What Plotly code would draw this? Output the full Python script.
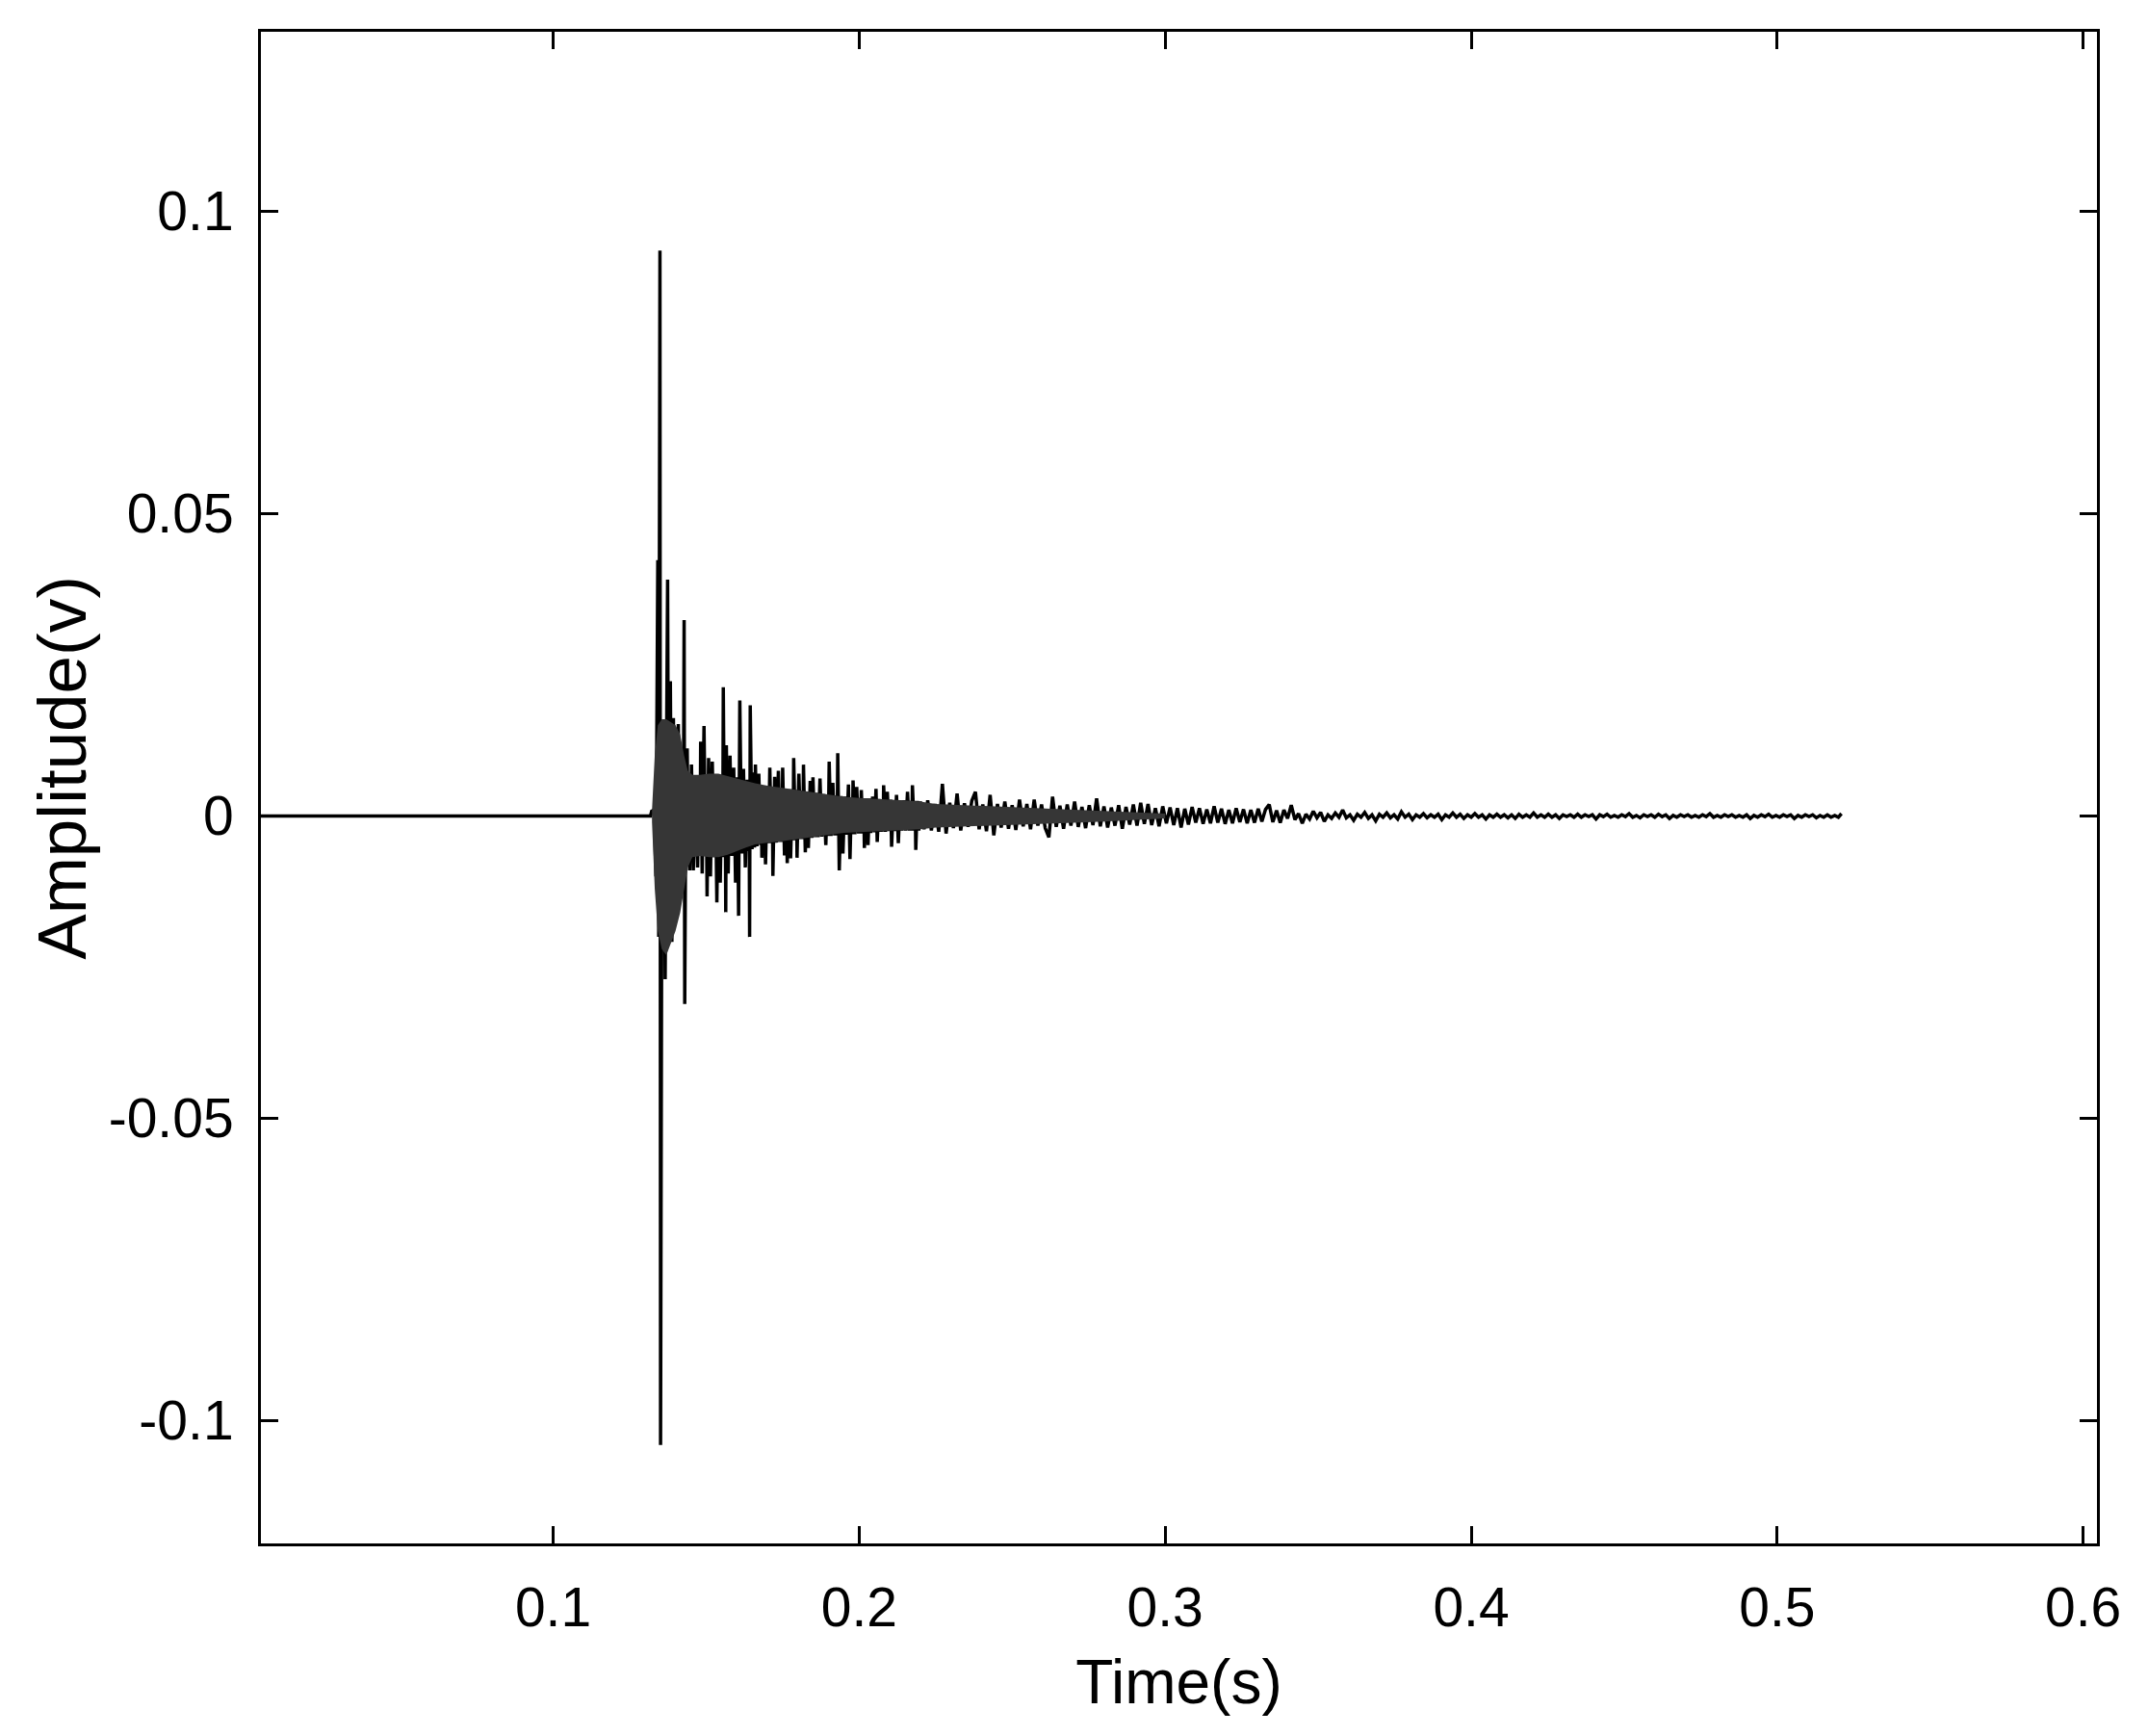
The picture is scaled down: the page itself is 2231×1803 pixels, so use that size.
import plotly.graph_objects as go

# ---------------- data ----------------
# quiet lead-in before the impact
lead_t = [0.0045, 0.1318]
lead_v = [0.0, 0.0]

# burst: individual peaks (s, V)
burst_t = [0.1322, 0.1330, 0.1336, 0.1342, 0.1345, 0.1349, 0.1351, 0.1356, 0.1361, 0.1363,
           0.1366, 0.1370, 0.1374, 0.1378, 0.1383, 0.1388, 0.1393, 0.1398, 0.1403, 0.1406,
           0.1409, 0.1414, 0.1420, 0.1425, 0.1428, 0.1430, 0.1434, 0.1436, 0.1438, 0.1442,
           0.1444, 0.1446, 0.1452, 0.1458, 0.1466, 0.1472, 0.1477, 0.1480, 0.1482, 0.1487,
           0.1493, 0.1498, 0.1500, 0.1503, 0.1508, 0.1514, 0.1520, 0.1526, 0.1530, 0.1535,
           0.1540, 0.1546, 0.1552, 0.1554, 0.1556, 0.1560, 0.1562, 0.1564, 0.1566, 0.1572,
           0.1578, 0.1584, 0.1590, 0.1596, 0.1602, 0.1606, 0.1610, 0.1616, 0.1622, 0.1628,
           0.1634, 0.1638, 0.1640, 0.1642, 0.1644, 0.1650, 0.1656, 0.1658, 0.1661, 0.1666,
           0.1672, 0.1678, 0.1680, 0.1682, 0.1688, 0.1694, 0.1700, 0.1704, 0.1708, 0.1713,
           0.1716, 0.1718, 0.1724, 0.1730, 0.1736, 0.1742, 0.1746, 0.1748, 0.1750, 0.1756,
           0.1760, 0.1765, 0.1770, 0.1776, 0.1782, 0.1784, 0.1786, 0.1792, 0.1795, 0.1797,
           0.1803, 0.1809, 0.1814, 0.1816, 0.1818, 0.1824, 0.1830, 0.1834, 0.1840, 0.1845,
           0.1849, 0.1855, 0.1860, 0.1866, 0.1872, 0.1878, 0.1884, 0.1891, 0.1896, 0.1899,
           0.1902, 0.1908, 0.1914, 0.1920, 0.1926, 0.1928, 0.1930, 0.1935, 0.1941, 0.1947,
           0.1953, 0.1959, 0.1965, 0.1970, 0.1975, 0.1978, 0.1980, 0.1986, 0.1992, 0.1998,
           0.2002, 0.2004, 0.2007, 0.2012, 0.2015, 0.2017, 0.2023, 0.2029, 0.2034, 0.2038,
           0.2044, 0.2050, 0.2055, 0.2059, 0.2065, 0.2071, 0.2076, 0.2078, 0.2080, 0.2086,
           0.2092, 0.2098, 0.2103, 0.2106, 0.2112, 0.2117, 0.2122, 0.2128, 0.2134, 0.2140,
           0.2146, 0.2152, 0.2158, 0.2164, 0.2170, 0.2172, 0.2174, 0.2180, 0.2183, 0.2185,
           0.2190, 0.2195]
burst_v = [0.0008, 0.0010, -0.0100, 0.0423, -0.0200, 0.0935, -0.1040, 0.0150, -0.0220, 0.0120,
           -0.0270, 0.0140, 0.0391, -0.0200, 0.0223, -0.0208, 0.0162, -0.0160, 0.0120, -0.0130,
           0.0152, -0.0120, 0.0110, -0.0100, 0.0324, -0.0311, 0.0090, -0.0070, 0.0112, -0.0070,
           0.0060, -0.0090, 0.0085, -0.0090, 0.0066, -0.0085, 0.0060, -0.0060, 0.0123, -0.0095,
           0.0149, -0.0066, 0.0060, -0.0133, 0.0096, -0.0100, 0.0090, -0.0068, 0.0068, -0.0143,
           0.0068, -0.0110, 0.0068, -0.0068, 0.0213, -0.0068, 0.0068, -0.0159, 0.0117, -0.0095,
           0.0100, -0.0066, 0.0080, -0.0110, 0.0064, -0.0165, 0.0191, -0.0062, 0.0078, -0.0085,
           0.0060, -0.0058, 0.0058, -0.0200, 0.0183, -0.0055, 0.0072, -0.0052, 0.0085, -0.0050,
           0.0070, -0.0048, 0.0050, -0.0069, 0.0050, -0.0080, 0.0050, -0.0045, 0.0080, -0.0045,
           0.0048, -0.0099, 0.0065, -0.0044, 0.0075, -0.0043, 0.0046, -0.0043, 0.0080, -0.0065,
           0.0045, -0.0078, 0.0044, -0.0070, 0.0044, -0.0040, 0.0096, -0.0040, 0.0043, -0.0069,
           0.0070, -0.0038, 0.0042, -0.0038, 0.0085, -0.0060, 0.0040, -0.0053, 0.0058, -0.0036,
           0.0064, -0.0035, 0.0038, -0.0035, 0.0062, -0.0034, 0.0036, -0.0048, 0.0035, -0.0033,
           0.0090, -0.0033, 0.0055, -0.0032, 0.0034, -0.0032, 0.0104, -0.0090, 0.0033, -0.0062,
           0.0032, -0.0031, 0.0052, -0.0071, 0.0031, -0.0030, 0.0059, -0.0030, 0.0048, -0.0029,
           0.0030, -0.0029, 0.0043, -0.0029, 0.0029, -0.0053, 0.0029, -0.0048, 0.0029, -0.0028,
           0.0032, -0.0027, 0.0045, -0.0043, 0.0028, -0.0026, 0.0027, -0.0026, 0.0051, -0.0026,
           0.0040, -0.0025, 0.0027, -0.0051, 0.0026, -0.0025, 0.0035, -0.0045, 0.0026, -0.0024,
           0.0026, -0.0024, 0.0040, -0.0024, 0.0025, -0.0024, 0.0051, -0.0024, 0.0025, -0.0056,
           0.0025, -0.0024]

# decaying tail, sampled every TAIL_DT seconds from TAIL_T0
TAIL_T0 = 0.2200
TAIL_DT = 0.0012
tail_v = [0.0024, -0.0022, 0.0026, -0.0024, 0.0020, -0.0026, 0.0053, -0.0029, 0.0022, -0.0020,
          0.0037, -0.0024, 0.0021, -0.0018, 0.0025, 0.0040, -0.0022, 0.0019, -0.0025, 0.0035,
          -0.0032, 0.0020, -0.0019, 0.0024, -0.0021, 0.0018, -0.0023, 0.0027, -0.0017, 0.0020,
          -0.0022, 0.0027, -0.0016, 0.0019, -0.0020, -0.0035, 0.0032, -0.0018, 0.0017, -0.0021,
          0.0019, -0.0016, 0.0024, -0.0018, 0.0015, -0.0020, 0.0018, -0.0015, 0.0029, -0.0017,
          0.0016, -0.0019, 0.0014, -0.0016, 0.0018, -0.0021, 0.0015, -0.0014, 0.0019, -0.0016,
          0.0022, -0.0013, 0.0020, -0.0015, 0.0013, -0.0017, 0.0016, -0.0012, 0.0014, -0.0015,
          0.0013, -0.0019, 0.0012, -0.0014, 0.0015, -0.0011, 0.0013, -0.0013, 0.0011, -0.0012,
          0.0016, -0.0011, 0.0012, -0.0013, 0.0010, -0.0012, 0.0013, -0.0010, 0.0011, -0.0012,
          0.0010, -0.0011, 0.0012, -0.0009, 0.0011, 0.0019, -0.0010, 0.0009, -0.0011, 0.0010,
          -0.0004, 0.0018, -0.0006, 0.0004, -0.0012, 0.0003, -0.0005, 0.0008, -0.0003, 0.0006,
          -0.0009, 0.0002, -0.0004, 0.0005, -0.0002, 0.0010, -0.0003, 0.0002, -0.0007, 0.0003,
          -0.0002, 0.0006, -0.0004, 0.0002, -0.0008, 0.0003, -0.0002, 0.0005, -0.0003, 0.0002,
          -0.0005, 0.0007, -0.0002, 0.0003, -0.0006, 0.0002, -0.0002, 0.0004, -0.0003, 0.0002,
          -0.0002, 0.0003, -0.0006, 0.0002, -0.0002, 0.0005, -0.0002, 0.0003, -0.0004, 0.0002,
          -0.0002, 0.0004, -0.0002, 0.0002, -0.0005, 0.0002, -0.0002, 0.0003, -0.0002, 0.0002,
          -0.0003, 0.0002, -0.0004, 0.0003, -0.0002, 0.0002, -0.0002, 0.0005, -0.0002, 0.0002,
          -0.0002, 0.0003, -0.0002, 0.0002, -0.0004, 0.0002, -0.0001, 0.0002, -0.0002, 0.0003,
          -0.0002, 0.0002, -0.0001, 0.0002, -0.0005, 0.0002, -0.0001, 0.0003, -0.0002, 0.0001,
          -0.0002, 0.0002, -0.0001, 0.0004, -0.0002, 0.0001, -0.0003, 0.0002, -0.0001, 0.0002,
          -0.0002, 0.0003, -0.0001, 0.0002, -0.0004, 0.0001, -0.0002, 0.0002, -0.0001, 0.0002,
          -0.0002, 0.0001, -0.0002, 0.0002, -0.0001, 0.0004, -0.0002, 0.0001, -0.0002, 0.0002,
          -0.0001, 0.0002, -0.0002, 0.0001, -0.0002, 0.0002, -0.0004, 0.0001, -0.0002, 0.0002,
          -0.0001, 0.0003, -0.0002, 0.0001, -0.0002, 0.0002, -0.0001, 0.0002, -0.0004, 0.0001,
          -0.0002, 0.0002, -0.0001, 0.0002, -0.0003, 0.0001, -0.0002, 0.0002, -0.0002, 0.0001,
          -0.0002]
end_t = [0.5210]
end_v = [0.0004]

# envelope of the densely oscillating part after the impact
band_t = [0.1323, 0.1332, 0.1342, 0.1355, 0.1370, 0.1385, 0.1400, 0.1415, 0.1428, 0.1440,
          0.1455, 0.1480, 0.1510, 0.1540, 0.1570, 0.1600, 0.1630, 0.1660, 0.1700, 0.1740,
          0.1780, 0.1820, 0.1860, 0.1900, 0.1950, 0.2000, 0.2050, 0.2100, 0.2150, 0.2200,
          0.2250, 0.2300, 0.2400, 0.2500, 0.2600, 0.2700, 0.2800, 0.2900, 0.3000]
band_hi = [0.0010, 0.0100, 0.0150, 0.0160, 0.0160, 0.0155, 0.0150, 0.0135, 0.0100, 0.0075,
           0.0068, 0.0068, 0.0070, 0.0070, 0.0066, 0.0062, 0.0058, 0.0054, 0.0050, 0.0047,
           0.0044, 0.0041, 0.0038, 0.0035, 0.0032, 0.0030, 0.0028, 0.0027, 0.0026, 0.0024,
           0.0020, 0.0019, 0.0017, 0.0015, 0.0013, 0.0011, 0.0009, 0.0007, 0.0004]
band_lo = [-0.0010, -0.0120, -0.0190, -0.0220, -0.0230, -0.0210, -0.0190, -0.0160, -0.0120, -0.0085,
           -0.0068, -0.0066, -0.0068, -0.0068, -0.0064, -0.0058, -0.0052, -0.0047, -0.0044, -0.0042,
           -0.0040, -0.0037, -0.0034, -0.0031, -0.0028, -0.0026, -0.0025, -0.0024, -0.0023, -0.0022,
           -0.0019, -0.0018, -0.0016, -0.0015, -0.0013, -0.0011, -0.0009, -0.0007, -0.0004]

# axes
x_range = [0.0045, 0.6045]
y_range = [-0.1203, 0.1297]
x_ticks = [0.1, 0.2, 0.3, 0.4, 0.5, 0.6]
x_ticktext = ["0.1", "0.2", "0.3", "0.4", "0.5", "0.6"]
y_ticks = [-0.1, -0.05, 0.0, 0.05, 0.1]
y_ticktext = ["-0.1", "-0.05", "0", "0.05", "0.1"]
x_title = "Time(s)"
y_title = "Amplitude(v)"

# ---------------- figure ----------------
tail_t = [TAIL_T0 + i * TAIL_DT for i in range(len(tail_v))]
sig_t = lead_t + burst_t + tail_t + end_t
sig_v = lead_v + burst_v + tail_v + end_v

FONT = "Liberation Sans, Arial, Helvetica, sans-serif"

fig = go.Figure()
fig.add_trace(go.Scatter(
    x=sig_t, y=sig_v, mode="lines",
    line=dict(color="#000000", width=3.5),
    hoverinfo="skip", showlegend=False,
))
fig.add_trace(go.Scatter(
    x=band_t + band_t[::-1], y=band_hi + band_lo[::-1],
    mode="lines", fill="toself", fillcolor="#363636",
    line=dict(width=0, color="#363636"),
    hoverinfo="skip", showlegend=False,
))

axis_common = dict(
    showline=True, linecolor="#000000", linewidth=3, mirror="allticks",
    ticks="inside", ticklen=18, tickwidth=3, tickcolor="#000000",
    showgrid=False, zeroline=False,
    tickfont=dict(family=FONT, size=57, color="#000000"),
)

fig.update_layout(
    width=2231, height=1803,
    paper_bgcolor="#ffffff", plot_bgcolor="#ffffff",
    margin=dict(l=263, r=61, t=25, b=208),
    xaxis=dict(range=x_range, tickvals=x_ticks, ticktext=x_ticktext,
               ticklabelstandoff=15,
               title=dict(text=x_title, font=dict(family=FONT, size=64, color="#000000"),
                          standoff=24),
               **axis_common),
    yaxis=dict(range=y_range, tickvals=y_ticks, ticktext=y_ticktext,
               ticklabelstandoff=14,
               **axis_common),
    annotations=[dict(
        text=y_title, textangle=-90, showarrow=False,
        xref="paper", yref="paper", x=-0.108, y=0.513,
        xanchor="center", yanchor="middle",
        font=dict(family=FONT, size=71, color="#000000"),
    )],
)

fig.write_html("out.html")
